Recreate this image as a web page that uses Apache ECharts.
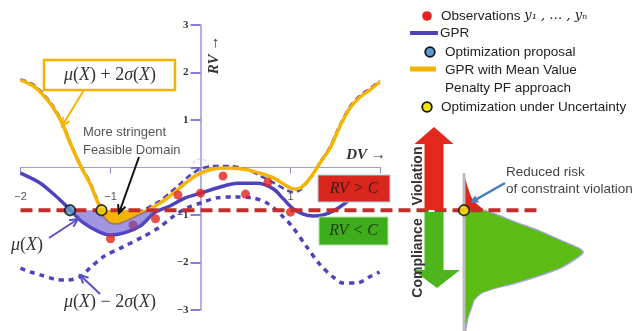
<!DOCTYPE html>
<html><head><meta charset="utf-8">
<script src="https://cdn.jsdelivr.net/npm/echarts@6/dist/echarts.min.js"></script>
<style>html,body{margin:0;padding:0;background:#fff}#c{width:642px;height:331px}</style>
</head><body><div id="c"></div>
<script>
// ---------------- data (chart units: DV on x, RV on y) ----------------
const C_LIMIT = -0.9;
const meanX = [-2.0,-1.78,-1.62,-1.47,-1.31,-1.12,-1.0,-0.86,-0.67,-0.51,-0.34,-0.17,0.0,0.22,0.41,0.63,0.81,0.92,1.03,1.14,1.25,1.36,1.47,1.58,1.69,1.79];
const meanY = [-0.12,-0.33,-0.58,-0.85,-1.15,-1.36,-1.42,-1.38,-1.23,-0.95,-0.81,-0.64,-0.54,-0.41,-0.33,-0.33,-0.45,-0.66,-0.87,-0.98,-1.02,-1.0,-0.92,-0.79,-0.62,-0.43];
const penX = [-2.0,-1.86,-1.75,-1.64,-1.54,-1.45,-1.38,-1.31,-1.23,-1.17,-1.12,-1.07,-1.0,-0.93,-0.82,-0.71,-0.59,-0.45,-0.34,-0.23,-0.12,0.0,0.14,0.33,0.52,0.66,0.81,0.96,1.03,1.11,1.22,1.33,1.44,1.55,1.66,1.77,1.88,1.99];
const penY = [1.84,1.72,1.53,1.27,0.94,0.52,0.22,-0.05,-0.33,-0.6,-0.83,-1.02,-1.15,-1.17,-1.1,-1.0,-0.9,-0.75,-0.6,-0.43,-0.26,-0.12,-0.03,-0.01,-0.05,-0.12,-0.22,-0.39,-0.45,-0.43,-0.22,0.1,0.41,0.87,1.25,1.48,1.63,1.8];
const upperX = [-2.0,-1.86,-1.75,-1.64,-1.54,-1.45,-1.38,-1.31,-1.23,-1.17,-1.12,-1.07,-1.0,-0.93,-0.82,-0.71,-0.59,-0.45,-0.34,-0.23,-0.12,0.0,0.14,0.33,0.52,0.66,0.81,0.96,1.03,1.11,1.22,1.33,1.44,1.55,1.66,1.77,1.88,1.99];
const upperY = [1.86,1.75,1.56,1.3,0.97,0.55,0.24,-0.03,-0.3,-0.57,-0.8,-0.98,-1.1,-1.12,-1.06,-0.96,-0.85,-0.7,-0.53,-0.35,-0.17,-0.03,0.03,0.03,-0.04,-0.17,-0.32,-0.48,-0.52,-0.47,-0.22,0.12,0.44,0.9,1.28,1.51,1.66,1.83];
const lowerX = [-2.0,-1.89,-1.78,-1.62,-1.48,-1.34,-1.23,-1.08,-0.86,-0.64,-0.45,-0.31,-0.15,0.03,0.18,0.36,0.58,0.74,0.92,1.03,1.18,1.33,1.47,1.58,1.74,1.88,1.99];
const lowerY = [-2.12,-2.2,-2.26,-2.35,-2.37,-2.3,-2.12,-1.88,-1.67,-1.46,-1.25,-1.04,-0.85,-0.73,-0.64,-0.62,-0.64,-0.75,-1.04,-1.27,-1.67,-2.05,-2.3,-2.43,-2.43,-2.3,-2.2];
const obsX = [-1,-0.75,-0.5,-0.25,0,0.25,0.5,0.75,1];
const obsY = [-1.5,-1.21,-1.08,-0.58,-0.54,-0.18,-0.56,-0.31,-0.94];
const proposalX = [-1.45];
const robustX = [-1.1];
const thresholdX = [-2.0, 3.8];
const distRV = [-0.22,-0.41,-0.62,-0.75,-0.9,-0.92,-1.0,-1.15,-1.36,-1.57,-1.7,-1.78,-1.88,-2.1,-2.26,-2.43,-2.54,-2.64,-2.79,-2.94,-3.15,-3.27,-3.44];
const distDensity = [0.01,0.03,0.06,0.1,0.17,0.18,0.27,0.42,0.64,0.83,0.95,0.99,0.95,0.81,0.64,0.42,0.25,0.14,0.08,0.06,0.03,0.02,0.01];
const yTicks = [-3,-2,-1,0,1,2,3];
const yTickLabels = ['−3','−2','−1','','1','2','3'];
const xTicks = [-2,-1,0,1,2];
const xTickLabels = ['−2','−1','','1',''];

// ---------------- layout & style ----------------
const W=642,H=331, PX0=200.5, PXU=90, PY0=167.5, PYU=47.5, DX0=464, DXU=120;
const BLUE='#4d43bd', YEL='#f4b400', RED='#e3231d', DRED='#c42e2a', GREEN='#5cbc14';
const zip=(xs,ys)=>xs.map((x,i)=>[x,ys[i]]);
function belowPart(xs, ys, c, x0, x1){
  const pts=[];
  for(let i=0;i<xs.length;i++){
    const x=xs[i], y=ys[i];
    if(i>0){
      const xp=xs[i-1], yp=ys[i-1];
      if((yp-c)*(y-c)<0){const t=(c-yp)/(y-yp);const xc=xp+t*(x-xp); if(xc>=x0&&xc<=x1) pts.push([xc,c]);}
    }
    if(x>=x0&&x<=x1&&y<=c) pts.push([x,y]);
  }
  return pts;
}
function arrowEls(x1,y1,x2,y2,color,w,head,filled){
  const a=Math.atan2(y2-y1,x2-x1), sp=0.45;
  const h1=[x2-head*Math.cos(a-sp), y2-head*Math.sin(a-sp)];
  const h2=[x2-head*Math.cos(a+sp), y2-head*Math.sin(a+sp)];
  const els=[];
  if(filled){
    const ex=x2-head*0.8*Math.cos(a), ey=y2-head*0.8*Math.sin(a);
    els.push({type:'line',z:100,shape:{x1,y1,x2:ex,y2:ey},style:{stroke:color,lineWidth:w}});
    els.push({type:'polygon',z:100,shape:{points:[[x2,y2],h1,h2]},style:{fill:color}});
  } else {
    els.push({type:'line',z:100,shape:{x1,y1,x2,y2},style:{stroke:color,lineWidth:w}});
    els.push({type:'polyline',z:100,shape:{points:[h1,[x2,y2],h2]},style:{stroke:color,lineWidth:w,fill:null}});
  }
  return els;
}
const mathRich={
  i:{fontFamily:'Liberation Serif',fontStyle:'italic',fontSize:18,fill:'#333',color:'#333'},
  n:{fontFamily:'Liberation Serif',fontSize:18,fill:'#333',color:'#333'}
};
function mathText(x,y,txt){
  return {type:'text',z:100,x,y,style:{text:txt,rich:mathRich,align:'center',verticalAlign:'middle'}};
}
const legendFont={fontFamily:'Liberation Sans',fontSize:13.5,fill:'#222'};

const graphics=[
  // mu + 2 sigma label box
  {type:'rect',z:99,shape:{x:44,y:60,width:131,height:30},style:{fill:'#fff',stroke:'#f2b300',lineWidth:2.5}},
  mathText(110,75,'{i|μ}{n|(}{i|X}{n|) + 2}{i|σ}{n|(}{i|X}{n|)}'),
  ...arrowEls(84,90,62,126,YEL,2,9,false),
  mathText(27,245,'{i|μ}{n|(}{i|X}{n|)}'),
  ...arrowEls(49,238,78,219,'#5a4fc8',2,9,false),
  mathText(110,302,'{i|μ}{n|(}{i|X}{n|) − 2}{i|σ}{n|(}{i|X}{n|)}'),
  ...arrowEls(100,294,80,275,'#5a4fc8',2,9,false),
  {type:'text',z:100,x:83,y:141,style:{text:'More stringent\nFeasible Domain',fontFamily:'Liberation Sans',fontSize:13,lineHeight:18,fill:'#555',align:'left',verticalAlign:'middle'}},
  ...arrowEls(139,157,119,213,'#111',2,9,false),
  // axis titles
  {type:'text',z:100,x:214,y:55,rotation:Math.PI/2,style:{text:'RV →',fontFamily:'Liberation Serif',fontStyle:'italic',fontWeight:'bold',fontSize:15,fill:'#333',align:'center',verticalAlign:'middle'}},
  {type:'text',z:100,x:366,y:155,style:{text:'DV →',fontFamily:'Liberation Serif',fontStyle:'italic',fontWeight:'bold',fontSize:15,fill:'#333',align:'center',verticalAlign:'middle'}},
  // RV > C / RV < C boxes
  {type:'rect',z:99,shape:{x:318,y:175,width:72,height:27},style:{fill:'#d9271d',stroke:'#9fd6e8',lineWidth:1}},
  {type:'text',z:100,x:354,y:188.5,style:{text:'RV > C',fontFamily:'Liberation Serif',fontStyle:'italic',fontSize:16,fill:'#3a1a12',align:'center',verticalAlign:'middle'}},
  {type:'rect',z:99,shape:{x:319,y:217,width:69,height:28},style:{fill:'#3dad1c',stroke:'#b8e0b0',lineWidth:1}},
  {type:'text',z:100,x:353.5,y:231,style:{text:'RV < C',fontFamily:'Liberation Serif',fontStyle:'italic',fontSize:16,fill:'#1f3a12',align:'center',verticalAlign:'middle'}},
  // big arrows
  {type:'polygon',z:95,shape:{points:[[434,127],[453.5,144],[443.5,144],[443.5,210],[424.5,210],[424.5,144],[414.5,144]]},style:{fill:'#e2271c'}},
  {type:'polygon',z:95,shape:{points:[[424.5,212],[443.5,212],[443.5,270],[460,270],[437,288],[413,270],[424.5,270]]},style:{fill:'#4fb51d'}},
  {type:'text',z:100,x:418,y:176,rotation:Math.PI/2,style:{text:'Violation',fontFamily:'Liberation Sans',fontWeight:'bold',fontSize:14,fill:'#333',align:'center',verticalAlign:'middle'}},
  {type:'text',z:100,x:418,y:258,rotation:Math.PI/2,style:{text:'Compliance',fontFamily:'Liberation Sans',fontWeight:'bold',fontSize:14,fill:'#333',align:'center',verticalAlign:'middle'}},
  // reduced risk
  {type:'text',z:100,x:506,y:172,style:{text:'Reduced risk',...legendFont,fill:'#444',align:'left',verticalAlign:'middle'}},
  {type:'text',z:100,x:506,y:189,style:{text:'of constraint violation',...legendFont,fill:'#444',align:'left',verticalAlign:'middle'}},
  ...arrowEls(505,183,470,203,'#4a7ebd',2.5,9,true),
  // legend
  {type:'circle',z:100,shape:{cx:427,cy:16,r:4.8},style:{fill:RED}},
  {type:'text',z:100,x:441,y:16,style:{text:'Observations {m|y₁ , … , yₙ}',...legendFont,rich:{m:{fontFamily:'DejaVu Serif',fontStyle:'italic',fontSize:13,fill:'#222',color:'#222'}},align:'left',verticalAlign:'middle'}},
  {type:'line',z:100,shape:{x1:410,y1:33,x2:438,y2:33},style:{stroke:BLUE,lineWidth:4}},
  {type:'text',z:100,x:440,y:33,style:{text:'GPR',...legendFont,align:'left',verticalAlign:'middle'}},
  {type:'circle',z:100,shape:{cx:430,cy:52,r:4.8},style:{fill:'#5b9bd5',stroke:'#111',lineWidth:1.8}},
  {type:'text',z:100,x:445,y:52,style:{text:'Optimization proposal',...legendFont,align:'left',verticalAlign:'middle'}},
  {type:'line',z:100,shape:{x1:410,y1:69,x2:436,y2:69},style:{stroke:YEL,lineWidth:5}},
  {type:'text',z:100,x:445,y:70,style:{text:'GPR with Mean Value',...legendFont,align:'left',verticalAlign:'middle'}},
  {type:'text',z:100,x:445,y:88,style:{text:'Penalty PF approach',...legendFont,align:'left',verticalAlign:'middle'}},
  {type:'circle',z:100,shape:{cx:427,cy:107,r:4.8},style:{fill:'#f6e300',stroke:'#111',lineWidth:1.8}},
  {type:'text',z:100,x:441,y:107,style:{text:'Optimization under Uncertainty',...legendFont,align:'left',verticalAlign:'middle'}}
];

const chart=echarts.init(document.getElementById('c'),null,{renderer:'canvas'});
const option={
  animation:false,
  backgroundColor:'#fff',
  grid:[
    {left:0,right:0,top:0,bottom:0},
    {left:PX0,width:1,top:PY0-3*PYU,height:6*PYU},
    {left:PX0-2*PXU,width:4*PXU,top:PY0-60,height:60}
  ],
  xAxis:[
    {gridIndex:0,type:'value',min:-PX0/PXU,max:(W-PX0)/PXU,show:false},
    {gridIndex:0,type:'value',position:'top',min:-DX0/DXU,max:(W-DX0)/DXU,show:false},
    {gridIndex:1,type:'value',min:0,max:1,show:false},
    {gridIndex:2,type:'value',min:xTicks[0],max:xTicks[xTicks.length-1],interval:1,position:'bottom',
      axisLine:{show:true,onZero:false,lineStyle:{color:'#a39bea',width:1}},
      axisTick:{show:true,inside:false,length:6,lineStyle:{color:'#8f86e0',width:1}},
      axisLabel:{margin:24,fontFamily:'Liberation Sans',fontSize:11,color:'#555',
        formatter:v=>{const i=xTicks.indexOf(v);return i<0?'':xTickLabels[i];}},
      splitLine:{show:false}}
  ],
  yAxis:[
    {gridIndex:0,type:'value',min:-(H-PY0)/PYU,max:PY0/PYU,show:false},
    {gridIndex:1,type:'value',min:yTicks[0],max:yTicks[yTicks.length-1],interval:1,position:'left',
      axisLine:{show:true,onZero:false,lineStyle:{color:'#9d95e6',width:1.5}},
      axisTick:{show:true,inside:false,length:10,lineStyle:{color:'#6356cc',width:1.5}},
      axisLabel:{margin:12,fontFamily:'Liberation Serif',fontWeight:'bold',fontSize:11,color:'#333',
        formatter:v=>{const i=yTicks.indexOf(v);return i<0?'':yTickLabels[i];}},
      splitLine:{show:false}},
    {gridIndex:2,type:'value',min:0,max:1,show:false}
  ],
  graphic:{elements:graphics},
  series:[
    {name:'origin',type:'scatter',data:[[0,0]],symbol:'circle',symbolSize:17,z:2,silent:true,
      itemStyle:{color:'rgba(0,0,0,0)',borderColor:'#b8b0f0',borderWidth:1,borderType:'dashed'}},
    {name:'distribution',type:'custom',xAxisIndex:1,yAxisIndex:0,z:2,silent:true,
      data:zip(distDensity,distRV),
      renderItem:(params,api)=>{
        if(params.dataIndex!==0) return null;
        const pts=zip(distDensity,distRV);
        const top=pts.filter(p=>p[1]>=C_LIMIT);
        const bot=pts.filter(p=>p[1]<=C_LIMIT);
        const redPoly=[[0,top[0][1]],...top,[0,C_LIMIT]].map(p=>api.coord(p));
        const greenPoly=[[0,C_LIMIT],...bot,[0,bot[bot.length-1][1]]].map(p=>api.coord(p));
        const outline=bot.map(p=>api.coord(p));
        const a0=api.coord([0,-0.12]), a1=api.coord([0,-3.6]);
        return {type:'group',children:[
          {type:'polyline',shape:{points:outline,smooth:0.3},style:{stroke:'#a9a2ee',lineWidth:2.5,fill:null}},
          {type:'polygon',shape:{points:redPoly},style:{fill:'#e3241b'}},
          {type:'polygon',shape:{points:greenPoly},style:{fill:GREEN}},
          {type:'line',shape:{x1:a0[0],y1:a0[1],x2:a1[0],y2:a1[1]},style:{stroke:'#bdbdbd',lineWidth:3}}
        ]};
      }},
    {name:'μ(X) − 2σ(X)',type:'line',data:zip(lowerX,lowerY),smooth:0.3,symbol:'none',z:3,
      lineStyle:{color:BLUE,width:3.5,type:[5,5]}},
    {name:'GPR',type:'line',data:zip(meanX,meanY),smooth:0.3,symbol:'none',z:4,
      lineStyle:{color:BLUE,width:3.5}},
    {name:'μ(X) + 2σ(X)',type:'line',data:zip(upperX,upperY),smooth:0.3,symbol:'none',z:4,
      lineStyle:{color:BLUE,width:2.5,type:[6,4]}},
    {name:'GPR with Mean Value Penalty PF approach',type:'line',data:zip(penX,penY),smooth:0.3,symbol:'none',z:5,
      lineStyle:{color:YEL,width:3.5}},
    {name:'Observations',type:'scatter',data:zip(obsX,obsY),symbolSize:9,z:6,itemStyle:{color:RED}},
    {name:'feasible',type:'line',data:belowPart(meanX,meanY,C_LIMIT,-1.6,-0.3),smooth:0.3,symbol:'none',z:7,
      lineStyle:{width:0},areaStyle:{color:'rgba(97,80,205,0.6)',origin:C_LIMIT,opacity:1}},
    {name:'stringent',type:'line',data:belowPart(penX,penY,C_LIMIT,-1.2,-0.5),smooth:0.3,symbol:'none',z:8,
      lineStyle:{width:0},areaStyle:{color:YEL,origin:C_LIMIT,opacity:1}},
    {name:'C',type:'line',data:thresholdX.map(x=>[x,C_LIMIT]),symbol:'none',z:9,
      lineStyle:{color:DRED,width:4,type:[12,6]}},
    {name:'Optimization proposal',type:'scatter',data:proposalX.map(x=>[x,C_LIMIT]),symbolSize:10.5,z:10,
      itemStyle:{color:'#5b9bd5',borderColor:'#111',borderWidth:1.8}},
    {name:'Optimization under Uncertainty',type:'scatter',data:robustX.map(x=>[x,C_LIMIT]),symbolSize:10.5,z:10,
      itemStyle:{color:'#f6e300',borderColor:'#111',borderWidth:1.8}},
    {name:'robust on distribution',type:'scatter',xAxisIndex:1,data:[[0,C_LIMIT]],symbolSize:10.5,z:10,
      itemStyle:{color:'#f6e300',borderColor:'#111',borderWidth:1.8}}
  ]
};
chart.setOption(option);
</script></body></html>
